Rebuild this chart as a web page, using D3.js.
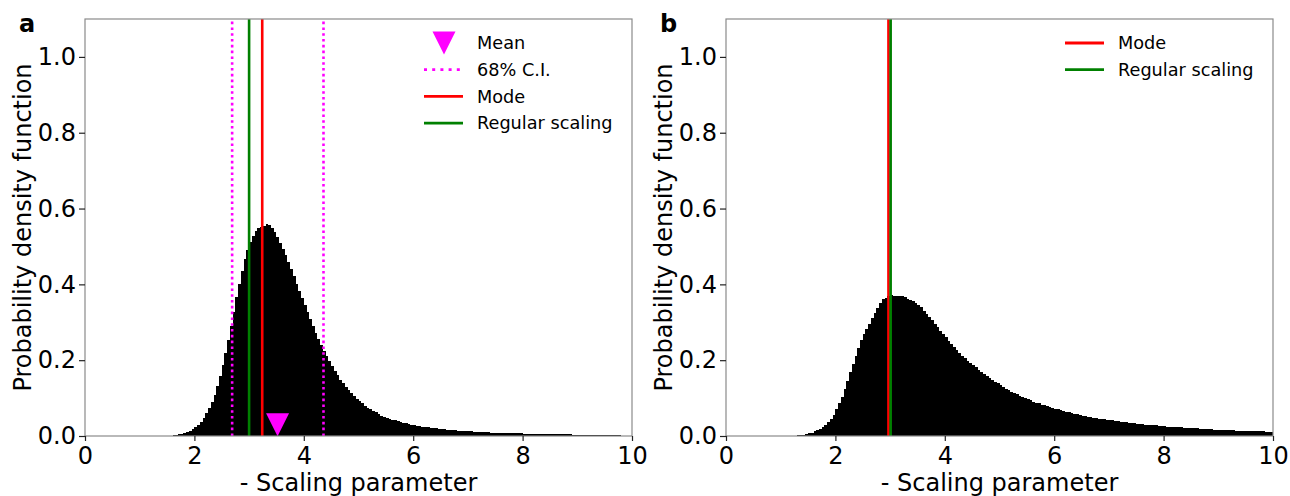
<!DOCTYPE html>
<html>
<head>
<meta charset="utf-8">
<script src="https://cdn.jsdelivr.net/npm/d3@7/dist/d3.min.js"></script>
<style>
  html, body { margin: 0; padding: 0; background: #fff; }
  svg { display: block; }
</style>
</head>
<body>
<svg id="chart" width="1290" height="496"></svg>
<script>
// Histogram bins: 200 bins of width 0.05 covering 0..10
const binStart = 0;
const binWidth = 0.05;

// Panel a: probability density per bin
const densityA = [
  0,0,0,0,0,0,0,0,0,0,
  0,0,0,0,0,0,0,0,0,0,
  0,0,0,0,0,0,0,0,0,0,
  0.001,0.001,0.002,0.003,0.004,0.006,0.008,0.011,0.014,0.018,
  0.023,0.030,0.038,0.048,0.060,0.074,0.090,0.109,0.131,0.157,
  0.186,0.218,0.253,0.290,0.328,0.366,0.402,0.436,0.466,0.491,
  0.512,0.528,0.540,0.548,0.552,0.553,0.558,0.556,
  0.548,0.538,0.525,0.510,0.494,0.477,0.459,0.440,0.421,0.402,
  0.383,0.364,0.345,0.326,0.308,0.290,0.272,0.255,0.239,0.224,
  0.210,0.197,0.184,0.172,0.160,0.149,0.139,0.130,0.121,0.113,
  0.105,0.098,0.092,0.086,0.080,0.075,0.070,0.066,0.062,0.058,
  0.054,0.051,0.048,0.045,0.043,0.041,0.039,0.037,0.035,0.033,
  0.031,0.030,0.029,0.027,0.026,0.025,0.024,0.023,0.022,0.021,
  0.020,0.019,0.018,0.018,0.017,0.016,0.015,0.015,0.014,0.014,
  0.013,0.013,0.012,0.012,0.011,0.011,0.011,0.010,0.010,0.010,
  0.009,0.009,0.009,0.009,0.008,0.008,0.008,0.008,0.007,0.007,
  0.007,0.007,0.006,0.006,0.006,0.006,0.006,0.005,0.005,0.005,
  0.005,0.005,0.005,0.004,0.004,0.004,0.004,0.004,0.004,0.004,
  0.003,0.003,0.003,0.003,0.003,0.003,0.003,0.003,0.002,0.002,
  0.002,0.002,0.002,0.002,0.002,0.002,0.002,0.002,0.001,0.001,
  0.001,0.001
];

// Panel b: probability density per bin
const densityB = [
  0,0,0,0,0,0,0,0,0,0,
  0,0,0,0,0,0,0,0,0,0,
  0,0,0,0,
  0.001,0.001,0.002,0.002,0.003,0.005,0.007,0.009,0.012,0.015,
  0.019,0.024,0.030,0.037,0.045,0.056,0.070,0.086,0.104,0.124,
  0.146,0.168,0.190,0.212,0.232,0.252,0.270,0.283,0.296,0.310,
  0.324,0.338,0.350,0.361,0.363,0.368,0.371,0.370,0.370,0.369,
  0.370,0.366,0.362,0.360,0.356,
  0.352,0.346,0.339,0.331,0.323,0.314,0.305,0.296,0.287,0.278,
  0.269,0.260,0.251,0.243,0.235,0.227,0.219,0.212,0.205,0.199,
  0.193,0.187,0.181,0.175,0.169,0.164,0.158,0.153,0.148,0.143,
  0.139,0.134,0.130,0.125,0.121,0.117,0.113,0.110,0.106,0.103,
  0.100,0.097,0.094,0.091,0.088,0.086,0.083,0.081,0.078,0.076,
  0.074,0.072,0.070,0.068,0.066,0.064,0.062,0.060,0.058,0.057,
  0.055,0.054,0.052,0.051,0.050,0.048,0.047,0.046,0.045,0.044,
  0.043,0.042,0.041,0.040,0.039,0.038,0.037,0.036,0.035,0.034,
  0.033,0.032,0.032,0.031,0.030,0.030,0.029,0.028,0.028,0.027,
  0.026,0.026,0.025,0.025,0.024,0.024,0.023,0.023,0.022,0.022,
  0.021,0.021,0.020,0.020,0.019,0.019,0.018,0.018,0.018,0.017,
  0.017,0.016,0.016,0.016,0.015,0.015,0.015,0.014,0.014,0.014,
  0.013,0.013,0.013,0.013,0.012,0.012,0.012,0.012,0.011,0.011,
  0.011
];

// Summary statistics drawn as reference lines / markers
const meanA = 3.52;
const meanMarkerY = 0.03;
const ciA = [2.69, 4.36];
const modeA = 3.24;
const regularA = 3.0;
const modeB = 2.97;
const regularB = 3.01;

// Axis ticks and labels
const xTicks = [0, 2, 4, 6, 8, 10];
const yTicks = [0, 0.2, 0.4, 0.6, 0.8, 1.0];
const xDomain = [0, 10];
const yDomain = [0, 1.1];
const xLabel = "- Scaling parameter";
const yLabel = "Probability density function";
const panelLetters = ["a", "b"];

const FONT = "DejaVu Sans, Verdana, sans-serif";
const MAGENTA = "#ff00ff";
const RED = "#ff0000";
const GREEN = "#008000";

const svg = d3.select("#chart");

function drawPanel(opt) {
  const { left, right, top, bottom, density, letter } = opt;
  const x = d3.scaleLinear().domain(xDomain).range([left, right]);
  const y = d3.scaleLinear().domain(yDomain).range([bottom, top]);
  const g = svg.append("g");

  // histogram bars
  const bins = density.map((v, i) => ({ x0: binStart + i * binWidth, x1: binStart + (i + 1) * binWidth, v }));
  g.append("g")
    .attr("shape-rendering", "crispEdges")
    .selectAll("rect")
    .data(bins.filter(d => d.v > 0))
    .join("rect")
    .attr("x", d => x(d.x0))
    .attr("width", d => x(d.x1) - x(d.x0))
    .attr("y", d => y(d.v))
    .attr("height", d => y(0) - y(d.v))
    .attr("fill", "#000");

  // vertical reference lines
  (opt.lines || []).forEach(l => {
    g.append("line")
      .attr("x1", x(l.value)).attr("x2", x(l.value))
      .attr("y1", y(yDomain[0])).attr("y2", y(yDomain[1]))
      .attr("stroke", l.color)
      .attr("stroke-width", 2.6)
      .attr("stroke-dasharray", l.dotted ? "2.6,3.2" : null);
  });

  // mean marker (downward triangle)
  if (opt.mean !== undefined) {
    const cx = x(opt.mean), cy = y(meanMarkerY), h = 11.5;
    g.append("path")
      .attr("d", `M${cx - h},${cy - h}L${cx + h},${cy - h}L${cx},${cy + h}Z`)
      .attr("fill", MAGENTA);
  }

  // frame
  g.append("rect")
    .attr("x", left).attr("y", top)
    .attr("width", right - left).attr("height", bottom - top)
    .attr("fill", "none")
    .attr("stroke", "#8a8a8a")
    .attr("stroke-width", 1.2);

  // axes
  const xAxis = g.append("g")
    .attr("transform", `translate(0,${bottom})`)
    .call(d3.axisBottom(x).tickValues(xTicks).tickFormat(d3.format("d")).tickSize(5).tickPadding(6));
  const yAxis = g.append("g")
    .attr("transform", `translate(${left},0)`)
    .call(d3.axisLeft(y).tickValues(yTicks).tickFormat(d3.format(".1f")).tickSize(6).tickPadding(3));
  [xAxis, yAxis].forEach(a => {
    a.select(".domain").remove();
    a.attr("font-family", FONT).attr("font-size", 24);
    a.selectAll(".tick line").attr("stroke", "#222").attr("stroke-width", 1.2);
    a.selectAll(".tick text").attr("fill", "#000");
  });

  // axis titles
  g.append("text")
    .attr("x", (left + right) / 2).attr("y", 491)
    .attr("text-anchor", "middle")
    .attr("font-family", FONT).attr("font-size", 24)
    .text(xLabel);
  g.append("text")
    .attr("transform", `translate(${left - 54},${(top + bottom) / 2}) rotate(-90)`)
    .attr("text-anchor", "middle")
    .attr("font-family", FONT).attr("font-size", 24)
    .text(yLabel);

  // panel letter
  g.append("text")
    .attr("x", left - 66).attr("y", 32)
    .attr("font-family", FONT).attr("font-size", 24).attr("font-weight", "bold")
    .text(letter);

  // legend
  const lx = right - 208, ly = 43, step = 26.7;
  opt.legend.forEach((item, i) => {
    const yy = ly + i * step;
    if (item.kind === "marker") {
      const cx = lx + 20, h = 11.5;
      g.append("path")
        .attr("d", `M${cx - h},${yy - h}L${cx + h},${yy - h}L${cx},${yy + h}Z`)
        .attr("fill", item.color);
    } else {
      g.append("line")
        .attr("x1", lx).attr("x2", lx + 39)
        .attr("y1", yy).attr("y2", yy)
        .attr("stroke", item.color).attr("stroke-width", 2.8)
        .attr("stroke-dasharray", item.dotted ? "3,5.2" : null);
    }
    g.append("text")
      .attr("x", lx + 53).attr("y", yy)
      .attr("dy", "0.35em")
      .attr("font-family", FONT).attr("font-size", 17.7)
      .text(item.label);
  });
}

drawPanel({
  left: 85, right: 632, top: 19, bottom: 436,
  density: densityA, letter: panelLetters[0],
  lines: [
    { value: ciA[0], color: MAGENTA, dotted: true },
    { value: ciA[1], color: MAGENTA, dotted: true },
    { value: regularA, color: GREEN },
    { value: modeA, color: RED }
  ],
  mean: meanA,
  legend: [
    { kind: "marker", color: MAGENTA, label: "Mean" },
    { kind: "line", color: MAGENTA, dotted: true, label: "68% C.I." },
    { kind: "line", color: RED, label: "Mode" },
    { kind: "line", color: GREEN, label: "Regular scaling" }
  ]
});

drawPanel({
  left: 726, right: 1273, top: 19, bottom: 436,
  density: densityB, letter: panelLetters[1],
  lines: [
    { value: modeB, color: RED },
    { value: regularB, color: GREEN }
  ],
  legend: [
    { kind: "line", color: RED, label: "Mode" },
    { kind: "line", color: GREEN, label: "Regular scaling" }
  ]
});
</script>
</body>
</html>
